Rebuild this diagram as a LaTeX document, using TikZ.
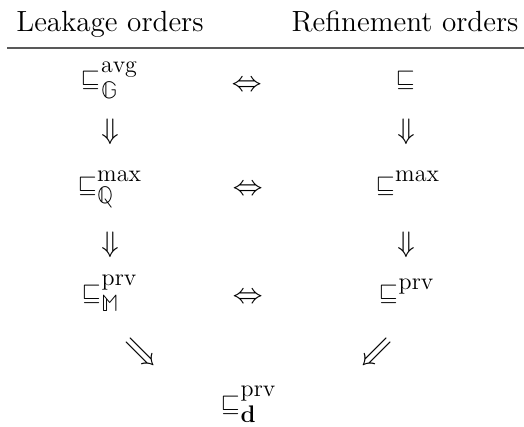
\documentclass[tikz,border=0pt]{standalone}
\usepackage{unicode-math}
\setmathfont{Latin Modern Math}
\usepackage{graphicx}
\DeclareMathSizes{14.6}{14.6}{12}{8}
\newcommand{\sqle}{{\scalebox{0.84}{$\sqsubseteq$}}}
\begin{document}
\begin{tikzpicture}[x=0.5pt,y=-0.5pt,
  every node/.style={inner sep=0pt},
  ent/.style={anchor=base, font=\fontsize{14.6}{17.5}\selectfont},
  arr/.style={anchor=center, font=\fontsize{14.6}{17.5}\selectfont},
  rulestyle/.style={draw=black!65, line width=0.7pt}]
\useasboundingbox (0,0) rectangle (524,427);
% header
\node[ent] (hL) at (110,32) {Leakage orders};
\node[ent] (hR) at (405,32) {Refinement orders};
\coordinate (r0) at (7,48);
\coordinate (r1) at (524,48);
\draw[rulestyle] (r0) -- (r1);
% row 1
\node[ent] (a1) at (110,87) {$\sqle^{\mathrm{avg}}_{\mathbb{G}}$};
\node[arr] (e1) at (247.5,84) {$\Leftrightarrow$};
\node[ent] (b1) at (406,87) {$\sqle$};
\node[arr] (d1) at (110,132) {$\Downarrow$};
\node[arr] (d2) at (406,132) {$\Downarrow$};
% row 2
\node[ent] (a2) at (110,192) {$\sqle^{\mathrm{max}}_{\mathbb{Q}}$};
\node[arr] (e2) at (248,188) {$\Leftrightarrow$};
\node[ent] (b2) at (408,192) {$\sqle^{\mathrm{max}}$};
\node[arr] (d3) at (110,245) {$\Downarrow$};
\node[arr] (d4) at (406,245) {$\Downarrow$};
% row 3
\node[ent] (a3) at (110,300) {$\sqle^{\mathrm{prv}}_{\mathbb{M}}$};
\node[arr] (e3) at (248,296) {$\Leftrightarrow$};
\node[ent] (b3) at (407,300) {$\sqle^{\mathrm{prv}}$};
\node[arr] (g1) at (140,352) {$⇘$};
\node[arr] (g2) at (377,352) {$⇙$};
% row 4
\node[ent] (c) at (249,411) {$\sqle^{\mathrm{prv}}_{\mathbf{d}}$};
\end{tikzpicture}
\end{document}
